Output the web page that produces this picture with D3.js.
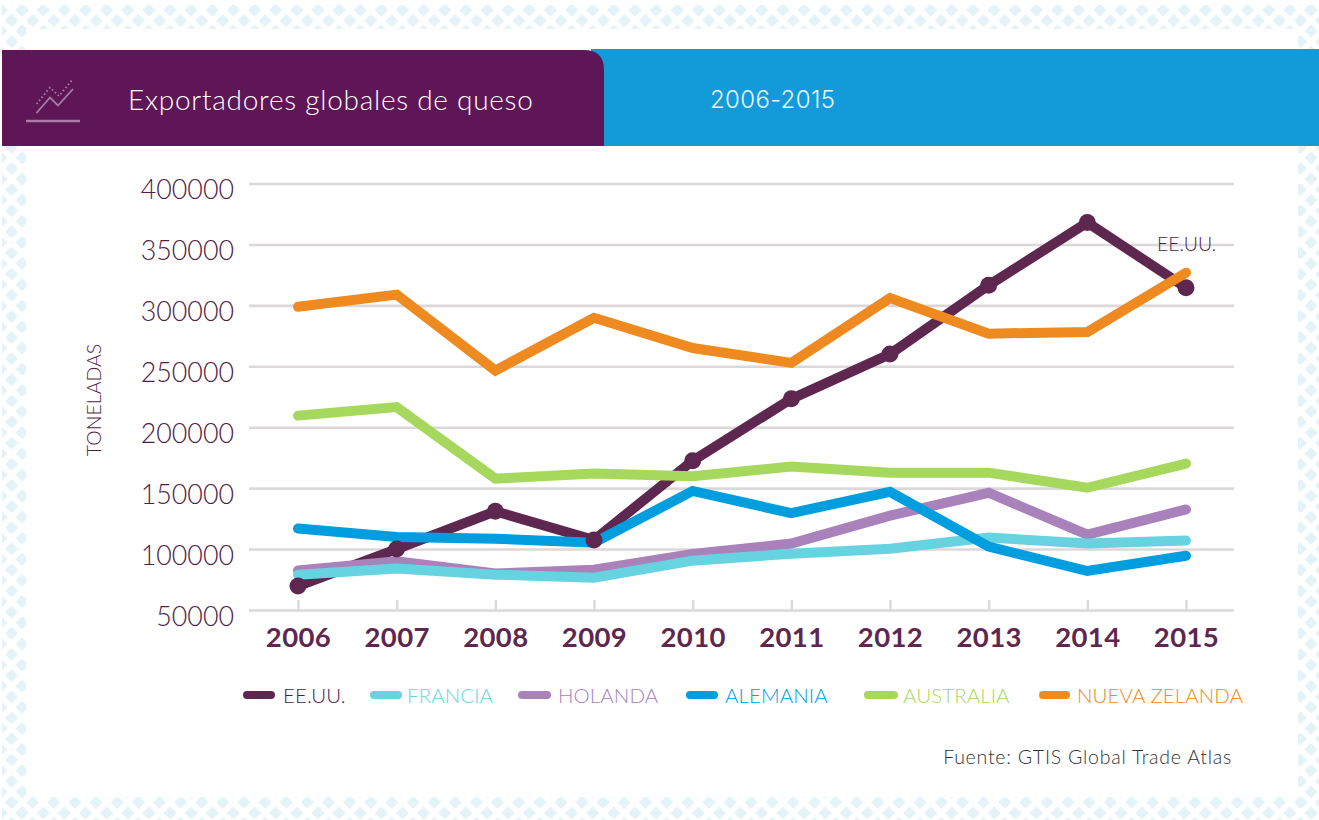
<!DOCTYPE html>
<html>
<head>
<meta charset="utf-8">
<script src="https://cdn.jsdelivr.net/npm/d3@7"></script>
<style>
  html, body { margin: 0; padding: 0; background: #fff; }
  svg { display: block; }
  text { font-family: Lato, "Open Sans", sans-serif; }
</style>
</head>
<body>
<svg id="chart" width="1319" height="820"></svg>
<script>
const years = [2006, 2007, 2008, 2009, 2010, 2011, 2012, 2013, 2014, 2015];
const yTicks = [50000, 100000, 150000, 200000, 250000, 300000, 350000, 400000];

const eeuu = [69700, 100000, 131000, 107400, 172500, 223300, 260000, 316500, 368000, 314500];
const francia = [79000, 84000, 79000, 76500, 90500, 96200, 100300, 109500, 104500, 107000];
const holanda = [82500, 90000, 80000, 83000, 96000, 104500, 127400, 146200, 111800, 132500];
const alemania = [116800, 110000, 108500, 105200, 147700, 129500, 147000, 102000, 82000, 94500];
const australia = [209500, 216500, 157800, 162000, 159700, 167700, 162700, 162700, 150300, 170200];
const nuevaZelanda = [298800, 308800, 246500, 289800, 265000, 252800, 306000, 276800, 278200, 326800];

const colorMap = {
  "EE.UU.": "#5e2750",
  FRANCIA: "#68d3e0",
  HOLANDA: "#a981bb",
  ALEMANIA: "#009ddf",
  AUSTRALIA: "#a6d85d",
  "NUEVA ZELANDA": "#ee8a1f",
};

const svg = d3.select("#chart");

// Diamond background
const defs = svg.append("defs");
const tile = 21.13;
const pattern = defs
  .append("pattern")
  .attr("id", "diamonds")
  .attr("patternUnits", "userSpaceOnUse")
  .attr("width", tile)
  .attr("height", tile)
  .attr("x", 1)
  .attr("y", 10);
[[0, 0], [tile, 0], [0, tile], [tile, tile], [tile / 2, tile / 2]].forEach(function (c) {
  pattern
    .append("path")
    .attr("fill", "#e3f3f7")
    .attr("d", `M${c[0]},${c[1] - 6.6}L${c[0] + 6.6},${c[1]}L${c[0]},${c[1] + 6.6}L${c[0] - 6.6},${c[1]}Z`);
});

const bands = [
  [2, 5, 1317, 24],
  [2, 5, 24, 815],
  [1298, 5, 21, 815],
  [2, 797, 1317, 23],
];
svg
  .append("g")
  .selectAll("rect")
  .data(bands)
  .join("rect")
  .attr("x", (d) => d[0])
  .attr("y", (d) => d[1])
  .attr("width", (d) => d[2])
  .attr("height", (d) => d[3])
  .attr("fill", "url(#diamonds)");

// Header
svg.append("rect").attr("x", 591).attr("y", 49).attr("width", 728).attr("height", 97).attr("fill", "#129bd8");
svg.append("path").attr("d", "M2,50H584Q604,50 604,70V146H2Z").attr("fill", "#5f1656");

const icon = svg.append("g").attr("fill", "none").attr("stroke", "#a67ea8");
icon.append("path").attr("d", "M36.5,113L50,97.5L58,105.5L73,89").attr("stroke-width", 1.8);
icon.append("path").attr("d", "M36.5,104L50,87.5L59,96L73,79").attr("stroke-width", 1.8).attr("stroke-dasharray", "1.6 2.4");
icon.append("path").attr("d", "M26,121H80").attr("stroke-width", 2.4);

svg
  .append("text")
  .attr("x", 128)
  .attr("y", 110)
  .attr("fill", "#fff")
  .attr("font-size", 28)
  .attr("font-weight", 300)
  .attr("letter-spacing", 0.73)
  .text("Exportadores globales de queso");

svg
  .append("text")
  .attr("x", 710)
  .attr("y", 108)
  .attr("fill", "#e8f5fb")
  .style("font-family", "Inter, sans-serif")
  .attr("font-size", 24)
  .attr("font-weight", 300)
  .attr("letter-spacing", 0.35)
  .text("2006-2015");

// Scales and axes
const x = d3.scalePoint().domain(years).range([298, 1186]);
const y = d3.scaleLinear().domain([50000, 400000]).range([610, 183.5]);

const gridColor = "#dcd8da";

const yAxis = svg
  .append("g")
  .attr("transform", "translate(249,0)")
  .call(d3.axisLeft(y).tickValues(yTicks).tickFormat(d3.format("d")).tickSize(-985).tickPadding(15));
yAxis.select(".domain").remove();
yAxis.selectAll(".tick line").attr("stroke", gridColor).attr("stroke-width", 2.6);
yAxis
  .selectAll(".tick text")
  .attr("fill", "#521c46")
  .attr("font-size", 26.8)
  .attr("font-weight", 300)
  .attr("dy", "0.57em");

const xAxis = svg
  .append("g")
  .attr("transform", "translate(0,610)")
  .call(d3.axisBottom(x).tickFormat(d3.format("d")).tickSize(-10).tickPadding(17));
xAxis.select(".domain").remove();
xAxis.selectAll(".tick line").attr("stroke", gridColor).attr("stroke-width", 2.4);
xAxis
  .selectAll(".tick text")
  .attr("fill", "#5e2750")
  .attr("font-size", 27.5)
  .attr("font-weight", 700)
  .attr("letter-spacing", 0.4);

svg
  .append("text")
  .attr("transform", "translate(101,400) rotate(-90)")
  .attr("text-anchor", "middle")
  .attr("fill", "#521c46")
  .attr("font-size", 19.5)
  .attr("font-weight", 300)
  .text("TONELADAS");

// Lines, in the order they overlap
const line = d3
  .line()
  .x((d, i) => x(years[i]))
  .y((d) => y(d));

function drawLine(values, name) {
  svg
    .append("path")
    .datum(values)
    .attr("fill", "none")
    .attr("stroke", colorMap[name])
    .attr("stroke-width", 10)
    .attr("stroke-linecap", "round")
    .attr("stroke-linejoin", "miter")
    .attr("d", line);
}

drawLine(eeuu, "EE.UU.");
drawLine(holanda, "HOLANDA");
drawLine(francia, "FRANCIA");
drawLine(alemania, "ALEMANIA");
drawLine(australia, "AUSTRALIA");

svg
  .append("g")
  .selectAll("circle")
  .data(eeuu)
  .join("circle")
  .attr("cx", (d, i) => x(years[i]))
  .attr("cy", (d) => y(d))
  .attr("r", 8.5)
  .attr("fill", colorMap["EE.UU."]);

drawLine(nuevaZelanda, "NUEVA ZELANDA");

svg
  .append("text")
  .attr("x", 1157)
  .attr("y", 251)
  .attr("fill", "#521c46")
  .attr("font-size", 19.5)
  .attr("font-weight", 300)
  .text("EE.UU.");

// Legend
const legendNames = ["EE.UU.", "FRANCIA", "HOLANDA", "ALEMANIA", "AUSTRALIA", "NUEVA ZELANDA"];
const legendSwatch = [[247, 271], [374, 398], [522, 547], [690, 714], [868, 894], [1043, 1066]];
const legendText = [283, 407, 558, 725, 903, 1077];

const legend = svg
  .append("g")
  .selectAll("g")
  .data(legendNames)
  .join("g");

legend
  .append("line")
  .attr("x1", (d, i) => legendSwatch[i][0])
  .attr("x2", (d, i) => legendSwatch[i][1])
  .attr("y1", 695)
  .attr("y2", 695)
  .attr("stroke", (d) => colorMap[d])
  .attr("stroke-width", 8)
  .attr("stroke-linecap", "round");

legend
  .append("text")
  .attr("x", (d, i) => legendText[i])
  .attr("y", 703)
  .attr("fill", (d) => (d === "EE.UU." ? "#521c46" : colorMap[d]))
  .attr("font-size", 20.5)
  .attr("font-weight", 300)
  .attr("letter-spacing", 0.08)
  .text((d) => d);

svg
  .append("text")
  .attr("x", 1232)
  .attr("y", 764)
  .attr("text-anchor", "end")
  .attr("fill", "#333")
  .attr("font-size", 19.5)
  .attr("font-weight", 300)
  .attr("letter-spacing", 0.77)
  .text("Fuente: GTIS Global Trade Atlas");
</script>
</body>
</html>
